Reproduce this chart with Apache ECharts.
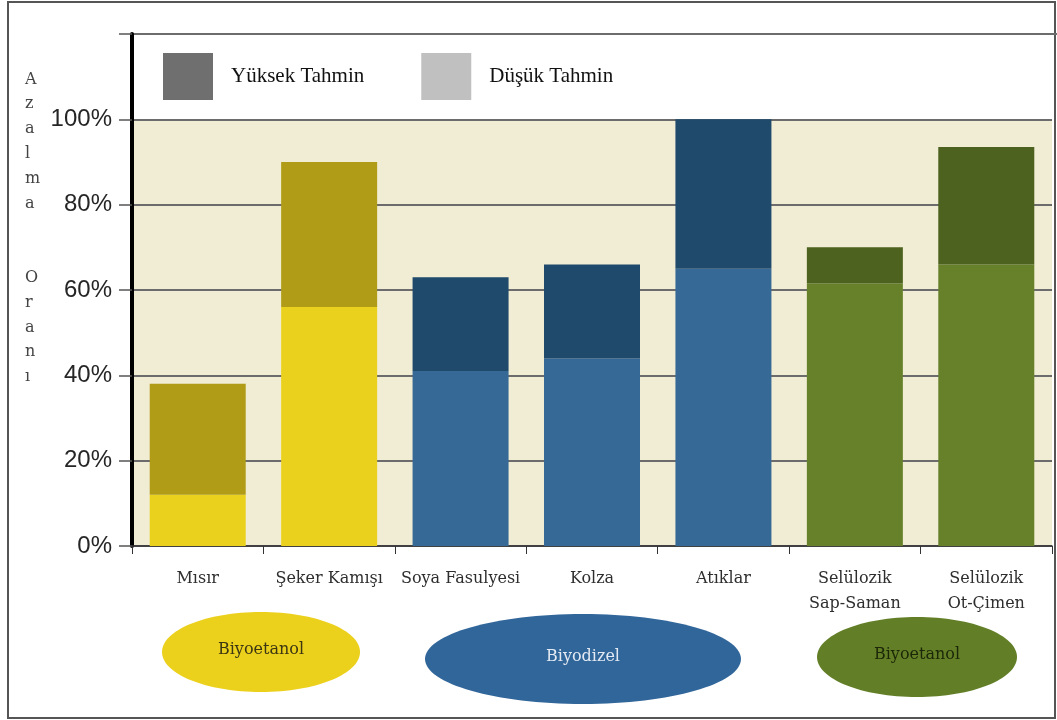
<!DOCTYPE html>
<html>
<head>
<meta charset="utf-8">
<script src="https://cdn.jsdelivr.net/npm/echarts@6/dist/echarts.min.js"></script>
<style>
html,body{margin:0;padding:0;background:#fff;}
#chart{width:1057px;height:720px;}
</style>
</head>
<body>
<div id="chart"></div>
<script>
// ---- data ----
var categories = ['Mısır', 'Şeker Kamışı', 'Soya Fasulyesi', 'Kolza', 'Atıklar', 'Selülozik\nSap-Saman', 'Selülozik\nOt-Çimen'];
var lowEstimate = [12, 56, 41, 44, 65, 61.5, 66];     // Düşük Tahmin
var highEstimate = [38, 90, 63, 66, 100, 70, 93.5];   // Yüksek Tahmin
var categoryGroup = [0, 0, 1, 1, 1, 2, 2];
var groupLabels = ['Biyoetanol', 'Biyodizel', 'Biyoetanol'];
var yTicks = [0, 20, 40, 60, 80, 100, 120];
var seriesNames = ['Yüksek Tahmin', 'Düşük Tahmin'];
var axisTitle = 'Azalma Oranı';

// ---- styles ----
var lowColors = ['#ead11e', '#366996', '#66812a'];
var highColors = ['#b09c17', '#1f4a6c', '#4c621e'];
var ellipseColors = ['#ebd01c', '#31669a', '#627f27'];
var ellipseText = ['#3c3612', '#e4eaf3', '#1c2708'];

var chart = echarts.init(document.getElementById('chart'), null, {renderer: 'canvas'});

var lowData = lowEstimate.map(function (v, i) {
  return {value: v, itemStyle: {color: lowColors[categoryGroup[i]]}};
});
var highData = highEstimate.map(function (v, i) {
  return {value: +(v - lowEstimate[i]).toFixed(2), itemStyle: {color: highColors[categoryGroup[i]]}};
});

var titleText = axisTitle.split(' ').map(function (w) { return w.split('').join('\n'); }).join('\n\n\n');

var ellipses = [
  {cx: 261, cy: 652, rx: 99, ry: 40},
  {cx: 583, cy: 659, rx: 158, ry: 45},
  {cx: 917, cy: 657, rx: 100, ry: 40}
];
var graphics = [
  {type: 'rect', shape: {x: 8, y: 2, width: 1047, height: 716}, style: {fill: 'none', stroke: '#555', lineWidth: 2}, z: 0},
  {type: 'line', shape: {x1: 1050, y1: 34, x2: 1057, y2: 34}, style: {stroke: '#6c6c6c', lineWidth: 2}, z: 0},
  {type: 'text', left: 25, top: 67, style: {text: titleText, font: '16px "DejaVu Serif"', fill: '#444', lineHeight: 24.8, align: 'center'}}
];
ellipses.forEach(function (e, g) {
  graphics.push({type: 'ellipse', shape: {cx: e.cx, cy: e.cy, rx: e.rx, ry: e.ry}, style: {fill: ellipseColors[g]}, z: 1});
  graphics.push({type: 'text', x: e.cx, y: e.cy - 2, style: {text: groupLabels[g], font: '16px "DejaVu Serif"', fill: ellipseText[g], align: 'center', verticalAlign: 'middle'}, z: 2});
});

var option = {
  animation: false,
  backgroundColor: '#fff',
  grid: {left: 132, right: 5, top: 34, bottom: 174, containLabel: false},
  legend: {
    data: seriesNames,
    left: 163, top: 53, padding: 0,
    itemWidth: 50, itemHeight: 47, itemGap: 57,
    icon: 'rect',
    textStyle: {fontFamily: 'Liberation Serif', fontSize: 21, color: '#111', padding: [6, 0, 0, 13]},
    selectedMode: false
  },
  xAxis: {
    type: 'category',
    data: categories,
    z: 3,
    axisLine: {lineStyle: {color: '#333', width: 1.5}},
    axisTick: {show: true, length: 8, lineStyle: {color: '#333'}},
    axisLabel: {fontFamily: 'DejaVu Serif', fontSize: 16, color: '#2e2e2e', lineHeight: 25, margin: 20, verticalAlign: 'top', interval: 0}
  },
  yAxis: {
    type: 'value',
    min: 0, max: 120, interval: 20,
    z: 2,
    axisLine: {show: true, lineStyle: {color: '#000', width: 4}},
    axisTick: {show: true, length: 13, lineStyle: {color: '#555', width: 1.5}},
    axisLabel: {
      fontFamily: 'Liberation Sans', fontSize: 24, color: '#262626', margin: 20,
      formatter: function (v) { return (yTicks.indexOf(v) >= 0 && v <= 100) ? v + '%' : ''; }
    },
    splitLine: {show: true, lineStyle: {color: '#6c6c6c', width: 2}}
  },
  series: [
    {
      name: 'bg', type: 'line', data: [], z: 0, silent: true,
      markArea: {z: -1, silent: true, itemStyle: {color: '#f1ecd4'}, data: [[{yAxis: 0}, {yAxis: 100}]]}
    },
    {
      name: seriesNames[1], type: 'bar', stack: 'est', z: 3, barWidth: 96,
      itemStyle: {color: '#c0c0c0'},
      data: lowData
    },
    {
      name: seriesNames[0], type: 'bar', stack: 'est', z: 3, barWidth: 96,
      itemStyle: {color: '#6f6f6f'},
      data: highData
    }
  ],
  graphic: graphics
};
chart.setOption(option);
</script>
</body>
</html>
